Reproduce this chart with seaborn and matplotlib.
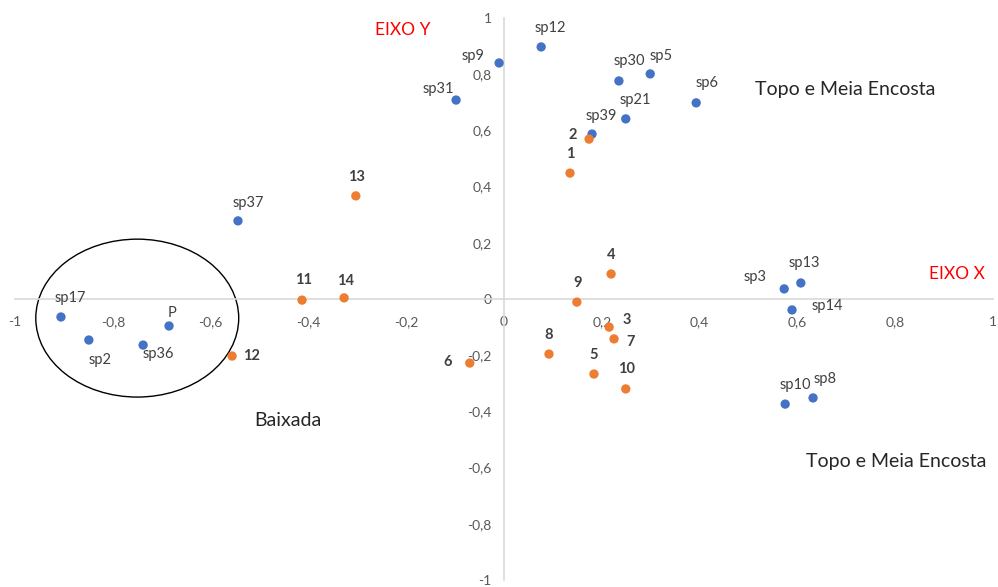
import seaborn as sns
import matplotlib.pyplot as plt
import pandas as pd
from matplotlib.patches import Ellipse
from matplotlib.ticker import FuncFormatter

# especies (pontos azuis)
sp_nomes = ['sp17', 'sp2', 'sp36', 'P', 'sp37', 'sp31', 'sp9', 'sp12', 'sp30',
            'sp5', 'sp6', 'sp21', 'sp39', 'sp3', 'sp13', 'sp14', 'sp10', 'sp8']
sp_x = [-0.906, -0.849, -0.738, -0.685, -0.544, -0.098, -0.010, 0.076, 0.235,
        0.299, 0.393, 0.249, 0.180, 0.573, 0.607, 0.589, 0.575, 0.632]
sp_y = [-0.064, -0.146, -0.164, -0.096, 0.278, 0.708, 0.840, 0.897, 0.776,
        0.801, 0.698, 0.641, 0.587, 0.036, 0.057, -0.039, -0.374, -0.352]

# parcelas (pontos laranja)
pc_nomes = ['1', '2', '3', '4', '5', '6', '7', '8', '9', '10', '11', '12', '13', '14']
pc_x = [0.135, 0.174, 0.215, 0.219, 0.184, -0.070, 0.225, 0.092, 0.149, 0.249,
        -0.413, -0.556, -0.303, -0.327]
pc_y = [0.448, 0.569, -0.100, 0.089, -0.267, -0.228, -0.142, -0.196, -0.011, -0.320,
        -0.004, -0.203, 0.367, 0.004]

# deslocamento dos rotulos (pixels)
desloc = {
    'sp17': (9, 19), 'sp2': (11, -20), 'sp36': (15, -9), 'P': (3, 13), 'sp37': (10, 18),
    'sp31': (-18, 11), 'sp9': (-26, 7), 'sp12': (9, 19), 'sp30': (10, 20), 'sp5': (11, 18),
    'sp6': (11, 20), 'sp21': (10, 19), 'sp39': (9, 18), 'sp3': (-29, 12), 'sp13': (4, 20),
    'sp14': (35, 4), 'sp10': (10, 19), 'sp8': (12, 19),
    '1': (0, 19), '2': (-16, 4), '3': (18, 7), '4': (0, 19), '5': (0, 19), '6': (-22, 1),
    '7': (17, -3), '8': (0, 19), '9': (1, 19), '10': (1, 20), '11': (1, 20), '12': (19, 0),
    '13': (1, 19), '14': (1, 17),
}

df = pd.concat([
    pd.DataFrame({'nome': sp_nomes, 'x': sp_x, 'y': sp_y, 'grupo': 'especie'}),
    pd.DataFrame({'nome': pc_nomes, 'x': pc_x, 'y': pc_y, 'grupo': 'parcela'}),
], ignore_index=True)

sns.set_style('white')
plt.rcParams['font.family'] = ['Lato', 'DejaVu Sans']

fig = plt.figure(figsize=(9.98, 5.87), dpi=100)
ax = fig.add_axes([15 / 998, 7 / 587, 978 / 998, 562 / 587])

sns.scatterplot(data=df, x='x', y='y', hue='grupo',
                palette={'especie': '#4472C4', 'parcela': '#ED7D31'},
                s=45, edgecolor='none', legend=False, ax=ax, zorder=3)

for _, r in df.iterrows():
    dx, dy = desloc[r['nome']]
    bold = r['grupo'] == 'parcela'
    ax.annotate(r['nome'], (r['x'], r['y']), xytext=(dx, dy), textcoords='offset pixels',
                ha='center', va='center', fontsize=10.5,
                fontweight='bold' if bold else 'normal',
                color='#404040', zorder=4)

# elipse da baixada
ax.add_patch(Ellipse((-0.750, -0.068), 0.415, 0.562, fill=False, edgecolor='black', lw=1))

ax.set_xlim(-1, 1)
ax.set_ylim(-1, 1)
ax.spines['left'].set_position('zero')
ax.spines['bottom'].set_position('zero')
ax.spines['top'].set_visible(False)
ax.spines['right'].set_visible(False)
for s in ['left', 'bottom']:
    ax.spines[s].set_color('#d9d9d9')
    ax.spines[s].set_linewidth(1.2)

ticks = [-1, -0.8, -0.6, -0.4, -0.2, 0, 0.2, 0.4, 0.6, 0.8, 1]
fmt = FuncFormatter(lambda v, p: ('%g' % round(v, 1)).replace('.', ','))
ax.set_xticks(ticks)
ax.set_yticks(ticks)
ax.xaxis.set_major_formatter(fmt)
ax.yaxis.set_major_formatter(fmt)
ax.tick_params(axis='both', length=0, labelsize=10, labelcolor='#595959')
ax.tick_params(axis='x', pad=12)
ax.tick_params(axis='y', pad=9)
ax.set_xlabel('')
ax.set_ylabel('')

ax.text(-0.207, 0.958, 'EIXO Y', color='#FF0000', fontsize=12.5, ha='center', va='center')
ax.text(0.927, 0.089, 'EIXO X', color='#FF0000', fontsize=12.5, ha='center', va='center')
ax.text(0.697, 0.747, 'Topo e Meia Encosta', color='#262626', fontsize=14, ha='center', va='center')
ax.text(0.802, -0.580, 'Topo e Meia Encosta', color='#262626', fontsize=14, ha='center', va='center')
ax.text(-0.442, -0.434, 'Baixada', color='#262626', fontsize=14, ha='center', va='center')

fig.savefig('out.png', dpi=100)
